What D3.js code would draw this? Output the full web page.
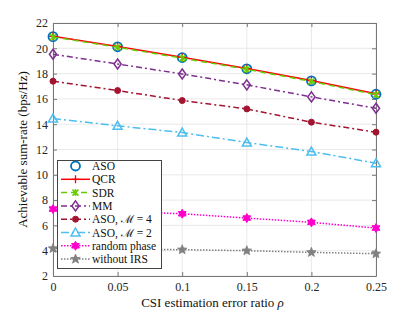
<!DOCTYPE html>
<html><head><meta charset="utf-8">
<script src="https://cdn.jsdelivr.net/npm/d3@7"></script>
<style>body{margin:0;background:#fff}svg{display:block}text{font-family:"Liberation Serif","Times New Roman",serif}</style>
</head><body><svg id="c" width="415" height="312"></svg>
<script>
const rho = [0, 0.05, 0.1, 0.15, 0.2, 0.25];
const xTicks = [0, 0.05, 0.1, 0.15, 0.2, 0.25];
const yTicks = [2,4,6,8,10,12,14,16,18,20,22];
const aso   = [20.92, 20.12, 19.27, 18.38, 17.43, 16.37];
const qcr   = [20.95, 20.15, 19.3, 18.4, 17.45, 16.4];
const sdr   = [20.9, 20.08, 19.22, 18.34, 17.38, 16.33];
const mm    = [19.53, 18.76, 17.97, 17.11, 16.16, 15.26];
const aso4  = [17.4, 16.66, 15.87, 15.21, 14.16, 13.37];
const aso2  = [14.45, 13.87, 13.34, 12.55, 11.84, 10.92];
const randp = [7.29, 7.1, 6.92, 6.58, 6.24, 5.79];
const noirs = [4.18, 4.12, 4.08, 4.0, 3.87, 3.76];
const names = ["ASO","QCR","SDR","MM","ASO, ℳ = 4","ASO, ℳ = 2","random phase","without IRS"];

const series = [
 {name:names[0], v:aso,   color:"#0072BD", dash:null, line:false, marker:"circle"},
 {name:names[1], v:qcr,   color:"#FF0000", dash:"", line:true, marker:"plus"},
 {name:names[2], v:sdr,   color:"#66CC00", dash:"6,4", line:true, marker:"x"},
 {name:names[3], v:mm,    color:"#7E2F8E", dash:"6,3,2,3", line:true, marker:"diamond"},
 {name:names[4], v:aso4,  color:"#A2142F", dash:"6,3,2,3", line:true, marker:"dot"},
 {name:names[5], v:aso2,  color:"#4DBEEE", dash:"8,3,2,3", line:true, marker:"triangle"},
 {name:names[6], v:randp, color:"#FF00CC", dash:"1.5,1.5", line:true, marker:"hexagram"},
 {name:names[7], v:noirs, color:"#808080", dash:"1.5,1.5", line:true, marker:"star"}
];

const svg = d3.select("#c");
const L=53, R=376, T=23, B=276;
const x = d3.scaleLinear().domain([0,0.25]).range([L,R]);
const y = d3.scaleLinear().domain([2,22]).range([B,T]);

// grid
const g = svg.append("g");
g.selectAll(".gx").data(xTicks).join("line").attr("x1",d=>x(d)).attr("x2",d=>x(d)).attr("y1",T).attr("y2",B).attr("stroke","#e3e3e3").attr("stroke-width",0.8);
g.selectAll(".gy").data(yTicks).join("line").attr("y1",d=>y(d)).attr("y2",d=>y(d)).attr("x1",L).attr("x2",R).attr("stroke","#e3e3e3").attr("stroke-width",0.8);

// axes
const fmtX = d=> d===0?"0":String(+d.toFixed(2));
const ax = svg.append("g").attr("transform",`translate(0,${B})`).call(d3.axisBottom(x).tickValues(xTicks).tickFormat(fmtX).tickSizeInner(-4).tickSizeOuter(0).tickPadding(6));
const axT = svg.append("g").attr("transform",`translate(0,${T})`).call(d3.axisTop(x).tickValues(xTicks).tickFormat("").tickSizeInner(-4).tickSizeOuter(0));
const ay = svg.append("g").attr("transform",`translate(${L},0)`).call(d3.axisLeft(y).tickValues(yTicks).tickSizeInner(-4).tickSizeOuter(0).tickPadding(5));
const ayR = svg.append("g").attr("transform",`translate(${R},0)`).call(d3.axisRight(y).tickValues(yTicks).tickFormat("").tickSizeInner(-4).tickSizeOuter(0));
[ax,axT,ay,ayR].forEach(a=>{a.selectAll("path").attr("stroke","#777").attr("stroke-width",1);a.selectAll("line").attr("stroke","#777");a.selectAll("text").attr("fill","#262626").style("font-size","12px").style("font-family",'"Liberation Serif",serif');});

// marker drawing
function drawMarker(sel, type, color){
  const star = (n, ro, ri) => { let p=[]; for(let i=0;i<2*n;i++){const r=i%2?ri:ro; const a=-Math.PI/2+i*Math.PI/n; p.push([r*Math.cos(a), r*Math.sin(a)]);} return "M"+p.map(q=>q.join(",")).join("L")+"Z"; };
  if(type==="circle") sel.append("circle").attr("r",4.5).attr("fill","none").attr("stroke",color).attr("stroke-width",1.8);
  else if(type==="plus") sel.append("path").attr("d","M-4,0H4M0,-4V4").attr("stroke",color).attr("stroke-width",1.3);
  else if(type==="x") sel.append("path").attr("d","M-3,-3L3,3M-3,3L3,-3M0,-3.5V3.5").attr("stroke",color).attr("stroke-width",1.5);
  else if(type==="diamond") sel.append("path").attr("d","M0,-5L3.6,0L0,5L-3.6,0Z").attr("fill","none").attr("stroke",color).attr("stroke-width",1.5);
  else if(type==="dot") sel.append("circle").attr("r",3).attr("fill",color).attr("stroke",color);
  else if(type==="triangle") sel.append("path").attr("d","M0,-4.5L4.5,3.5L-4.5,3.5Z").attr("fill","none").attr("stroke",color).attr("stroke-width",1.5);
  else if(type==="hexagram") sel.append("path").attr("d",star(6,4.5,2.6)).attr("fill",color).attr("stroke",color).attr("stroke-width",1);
  else if(type==="star") sel.append("path").attr("d",star(5,5,2.2)).attr("fill",color).attr("stroke",color).attr("stroke-width",0.8);
}

const line = d3.line().x((d,i)=>x(rho[i])).y(d=>y(d));
series.forEach(s=>{
  if(s.line) svg.append("path").attr("d",line(s.v)).attr("fill","none").attr("stroke",s.color).attr("stroke-width",1.5).attr("stroke-dasharray",s.dash||null);
  s.v.forEach((d,i)=>{ const m=svg.append("g").attr("transform",`translate(${x(rho[i])},${y(d)})`); drawMarker(m,s.marker,s.color); });
});

// legend
const lg = svg.append("g");
lg.append("rect").attr("x",57.5).attr("y",160.5).attr("width",104).attr("height",108).attr("fill","#fff").attr("stroke","#444").attr("stroke-width",1);
series.forEach((s,i)=>{
  const yy = 166 + i*13.3;
  if(s.line) lg.append("line").attr("x1",61).attr("x2",90).attr("y1",yy).attr("y2",yy).attr("stroke",s.color).attr("stroke-width",1.5).attr("stroke-dasharray",s.dash||null);
  const m = lg.append("g").attr("transform",`translate(75.5,${yy})`); drawMarker(m,s.marker,s.color);
  lg.append("text").attr("x",92).attr("y",yy+4).style("font-size","11.5px").attr("fill","#111").text(s.name);
});

// labels
svg.append("text").attr("x",(L+R)/2+ -2).attr("y",307).attr("text-anchor","middle").style("font-size","13px").attr("fill","#111")
  .html('CSI estimation error ratio <tspan font-style="italic">ρ</tspan>');
svg.append("text").attr("transform",`translate(27,${(T+B)/2}) rotate(-90)`).attr("text-anchor","middle").style("font-size","13px").attr("fill","#111").text("Achievable sum-rate (bps/Hz)");
</script></body></html>
